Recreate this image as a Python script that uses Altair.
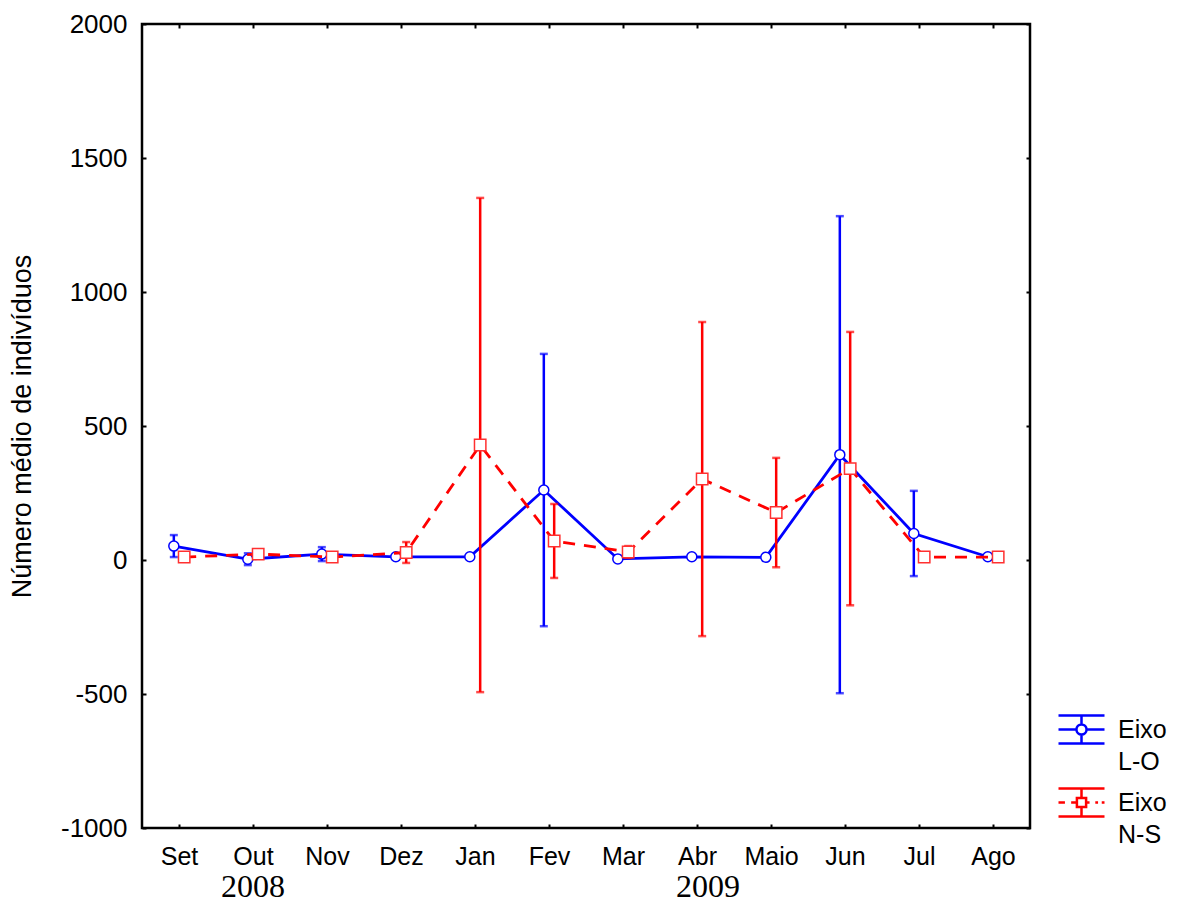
import altair as alt
import pandas as pd

# Months of the sampling period (Sep 2008 - Aug 2009)
months = ["Set", "Out", "Nov", "Dez", "Jan", "Fev", "Mar", "Abr", "Maio", "Jun", "Jul", "Ago"]

# Mean number of individuals and error-bar half-width, transect L-O
lo_mean = [52, 3, 22, 12, 12, 261, 4, 12, 10, 393, 99, 12]
lo_err = [41, 22, 26, 0, 0, 508, 0, 0, 0, 890, 159, 0]

# Mean number of individuals and error-bar half-width, transect N-S
ns_mean = [11, 22, 11, 28, 429, 71, 30, 302, 177, 341, 11, 11]
ns_err = [0, 0, 0, 39, 922, 138, 22, 586, 204, 510, 0, 0]

series_names = ["Eixo L-O", "Eixo N-S"]
series_colors = ["#0000ff", "#ff0000"]

# Year annotations under the month axis (month-index position)
years = ["2008", "2009"]
year_at = [1.0, 7.15]

SHIFT = 0.07  # horizontal dodge of the two series within each month

rows = []
for i, m in enumerate(months):
    for name, means, errs, sgn in ((series_names[0], lo_mean, lo_err, -1),
                                   (series_names[1], ns_mean, ns_err, 1)):
        rows.append({
            "month": m,
            "pos": i + sgn * SHIFT,
            "series": name,
            "mean": means[i],
            "lo": means[i] - errs[i],
            "hi": means[i] + errs[i],
            "has_err": errs[i] > 0,
        })
df = pd.DataFrame(rows)
year_df = pd.DataFrame({"year": years, "pos": year_at})

W, H = 888, 804
FONT = "Liberation Sans"
LABEL_SIZE = 25

x_scale = alt.Scale(domain=[-0.5, 11.5], nice=False, zero=False)
y_scale = alt.Scale(domain=[-1000, 2000], nice=False, zero=False)

label_js = "[" + ",".join("'%s'" % m for m in months) + "][datum.value]"
y_values = [-1000, -500, 0, 500, 1000, 1500, 2000]

tick_common = dict(domain=False, grid=False, ticks=True, tickSize=4, tickWidth=2,
                   tickColor="black", offset=-4)

x_bottom = alt.Axis(values=list(range(12)), labelExpr=label_js, title=None,
                    orient="bottom", labelFont=FONT, labelFontSize=LABEL_SIZE,
                    labelColor="black", labelPadding=16, labelFlush=False, **tick_common)
x_top = alt.Axis(values=list(range(12)), labels=False, title=None, orient="top", **tick_common)
y_left = alt.Axis(values=y_values, orient="left", labelExpr="'' + datum.value",
                  title="Número médio de indivíduos", titleFont=FONT, titleFontSize=27,
                  titleFontWeight="normal", titleColor="black", titlePadding=24,
                  labelFont=FONT, labelFontSize=26, labelColor="black",
                  labelPadding=15, labelFlush=False, **tick_common)
y_right = alt.Axis(values=y_values, labels=False, title=None, orient="right", **tick_common)


def xenc(axis=None, field="pos"):
    return alt.X(f"{field}:Q", scale=x_scale, axis=axis)


def yenc(field="mean", axis=None):
    return alt.Y(f"{field}:Q", scale=y_scale, axis=axis)


base = alt.Chart(df)
layers = []

for k, (name, color) in enumerate(zip(series_names, series_colors)):
    sub = base.transform_filter(alt.datum.series == name)
    bars = sub.transform_filter(alt.datum.has_err)
    first = k == 0
    rule = bars.mark_rule(color=color, strokeWidth=2.5).encode(
        x=xenc(x_bottom if first else None),
        y=yenc("lo", y_left if first else None),
        y2="hi:Q",
    )
    caps_hi = bars.mark_tick(color=color, orient="horizontal", size=8, thickness=2.5).encode(
        x=xenc(x_top if first else None),
        y=yenc("hi", y_right if first else None),
    )
    caps_lo = bars.mark_tick(color=color, orient="horizontal", size=8, thickness=2.5).encode(
        x=xenc(), y=yenc("lo"),
    )
    line_kw = dict(color=color, strokeWidth=2.8)
    if k == 1:
        line_kw["strokeDash"] = [12, 9]
    line = sub.mark_line(**line_kw).encode(x=xenc(), y=yenc(), order="pos:Q")
    if k == 0:
        pts = sub.mark_point(shape="circle", size=100, filled=True, fill="white",
                             stroke=color, strokeWidth=1.5, opacity=1).encode(x=xenc(), y=yenc())
    else:
        pts = sub.mark_point(shape="square", size=130, filled=True, fill="white",
                             stroke="#ff3030", strokeWidth=1.5, opacity=1).encode(x=xenc(), y=yenc())
    layers += [rule, caps_hi, caps_lo, line, pts]

# Legend glyphs: caps, error bar, connecting line and marker, drawn as symbol paths
CAP = 0.61
lo_glyph = (f"M-1,-{CAP}L1,-{CAP}M-1,{CAP}L1,{CAP}"
            f"M0,-{CAP}L0,-0.22M0,0.22L0,{CAP}"
            "M-1,0L-0.22,0M0.22,0L1,0"
            "M0.22,0A0.22,0.22 0 1,1 -0.22,0A0.22,0.22 0 1,1 0.22,0Z")
ns_glyph = (f"M-1,-{CAP}L1,-{CAP}M-1,{CAP}L1,{CAP}"
            f"M0,-{CAP}L0,-0.2M0,0.2L0,{CAP}"
            "M-1,0L-0.72,0M-0.45,0L-0.2,0M0.2,0L0.35,0M0.6,0L0.72,0M0.88,0L1,0"
            "M-0.2,-0.2L0.2,-0.2L0.2,0.2L-0.2,0.2Z")

legend_layer = base.mark_point(opacity=0, filled=False).encode(
    x=xenc(), y=yenc(),
    color=alt.Color("series:N", scale=alt.Scale(domain=series_names, range=series_colors),
                    legend=alt.Legend(
                        title=None, orient="none", legendX=915, legendY=681,
                        symbolSize=2116, symbolStrokeWidth=2.5, symbolOpacity=1,
                        symbolFillColor="white",
                        labelFont=FONT, labelFontSize=LABEL_SIZE, labelColor="black",
                        labelOffset=12, labelLimit=200, rowPadding=3,
                        labelExpr="split(datum.label, ' ')",
                    )),
    shape=alt.Shape("series:N", scale=alt.Scale(domain=series_names, range=[lo_glyph, ns_glyph])),
)
layers.append(legend_layer)

# Year labels in a serif face below the month names
year_text = alt.Chart(year_df).mark_text(
    font="Liberation Serif", fontSize=32, color="black", baseline="middle", align="center"
).encode(x=xenc(), y=alt.value(H + 59), text="year:N")
layers.append(year_text)

chart = alt.layer(*layers).properties(
    width=W, height=H,
    autosize=alt.AutoSizeParams(type="none"),
    padding={"left": 142, "top": 24, "right": 153, "bottom": 76},
).configure(
    background="white",
    style={"guide-label": {"lineHeight": 32}},
).configure_view(
    stroke="black", strokeWidth=2.5
)

chart.save("out.html", embed_options={"renderer": "svg", "actions": False})
